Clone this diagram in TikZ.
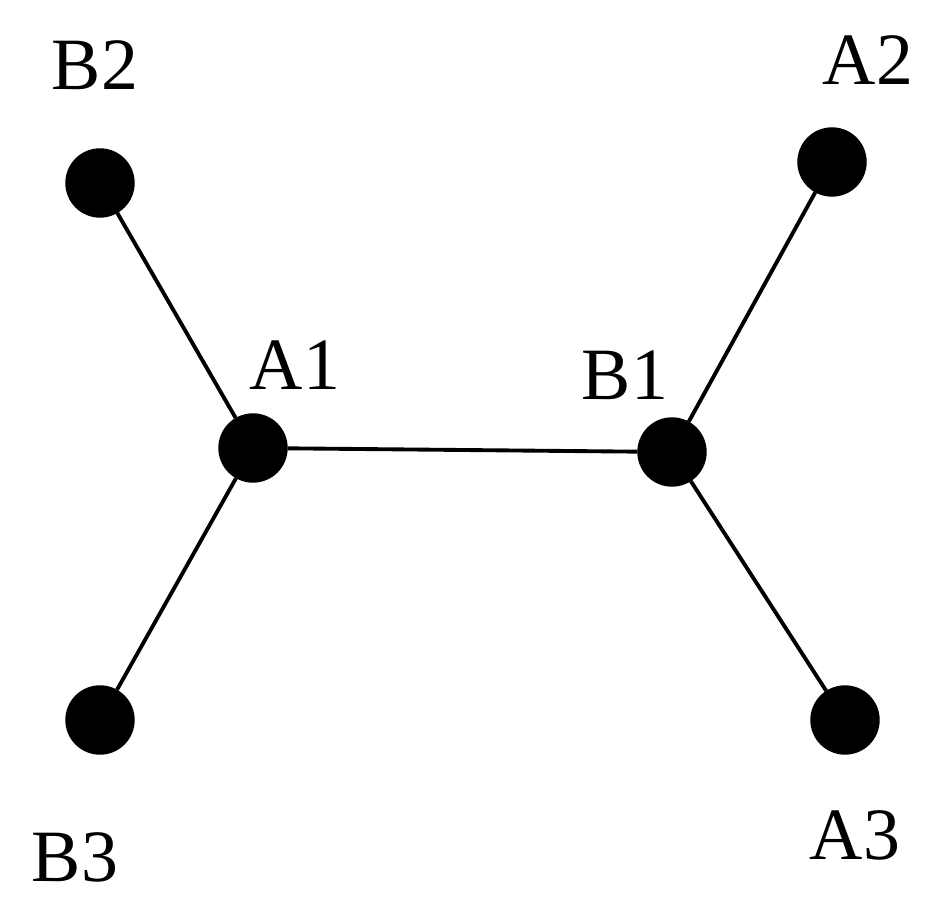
\documentclass[tikz,border=0pt]{standalone}
\usepackage{fontspec}
\setmainfont{Liberation Serif}
\usetikzlibrary{positioning}
\tikzset{%
  vertex/.style = {draw, fill = black, circle, inner sep = 0pt,
    minimum size = 6.8mm}, % Vertex
  vlabel/.style = {font = \fontsize{21}{25}\selectfont, inner sep = 0pt}, % Label
  edge/.style   = {line width = 1.1pt}
}

\begin{document}
\begin{tikzpicture}
\useasboundingbox (0,0) rectangle (9.38,9.15);
%vertices
\draw
	(2.53,4.67) node [vertex] (a1) {}
	(8.32,7.53) node [vertex] (a2) {}
	(8.45,1.95) node [vertex] (a3) {}
	(6.72,4.63) node [vertex] (b1) {}
	(1.00,7.32) node [vertex] (b2) {}
	(1.00,1.95) node [vertex] (b3) {};
%edges
\draw[edge] (a1) -- (b1);
\draw[edge] (a1) -- (b2);
\draw[edge] (a1) -- (b3);
\draw[edge] (b1) -- (a2);
\draw[edge] (b1) -- (a3);
%vertex labels
\node [vlabel] (la1) at (2.95,5.50) {A1};
\node [vlabel] (la2) at (8.68,8.55) {A2};
\node [vlabel] (la3) at (8.55,0.80) {A3};
\node [vlabel] (lb1) at (6.25,5.40) {B1};
\node [vlabel] (lb2) at (0.95,8.50) {B2};
\node [vlabel] (lb3) at (0.75,0.58) {B3};
\end{tikzpicture}
\end{document}
